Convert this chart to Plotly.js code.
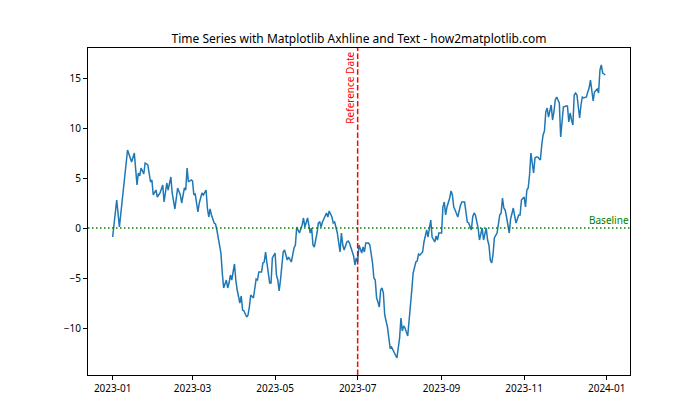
<!DOCTYPE html>
<html>
<head>
<meta charset="utf-8">
<script src="https://cdn.plot.ly/plotly-3.0.1.min.js"></script>
<style>html,body{margin:0;padding:0;background:#fff}#chart{width:700px;height:420px}</style>
</head>
<body>
<div id="chart"></div>
<script>
// Day offsets from 2023-01-01 and the series values
const startDate = '2023-01-01';
const dayOffsets = [0,3,5,10,11,14,16,18,19,20,21,23,24,26,28,29,30,32,33,35,37,38,40,41,43,44,46,48,50,51,53,54,55,56,58,59,60,61,63,64,66,67,69,70,71,72,73,75,76,77,78,80,81,82,84,85,86,87,88,90,91,92,94,95,96,97,99,100,101,102,104,105,106,107,108,110,111,112,113,114,116,117,118,120,121,122,123,124,126,127,129,130,132,134,135,136,138,140,141,142,143,144,146,147,148,149,151,152,153,154,155,157,158,159,160,162,163,164,165,166,168,169,170,171,173,174,175,176,178,179,180,181,182,184,185,186,187,189,190,192,193,194,195,196,197,198,199,200,201,203,204,205,206,208,209,210,211,212,213,214,215,216,218,219,220,221,222,224,225,226,227,229,230,231,232,233,234,235,236,238,239,240,241,243,244,245,246,247,249,250,251,252,253,254,255,257,258,260,261,262,263,265,266,267,268,270,271,272,273,274,276,277,278,279,280,281,282,284,285,286,287,288,289,290,291,292,293,294,296,297,298,300,301,302,303,304,305,306,307,308,309,311,312,313,314,316,317,318,319,320,321,322,324,325,326,327,328,330,331,332,333,335,336,337,338,339,340,341,342,343,345,346,347,348,350,351,352,353,354,355,356,358,359,360,361,362,363,364];
const values = [-0.9,2.8,0.1,6.5,7.8,6.6,7.5,4.3,5.5,5.2,6.0,5.4,6.5,6.3,4.6,4.8,3.3,3.8,3.1,3.5,4.3,2.6,4.5,3.8,5.1,3.5,1.9,4.0,3.3,2.5,4.0,3.8,6.0,4.6,4.8,4.7,3.3,3.4,1.6,2.5,3.5,3.3,3.8,2.0,1.1,1.9,1.3,0.5,0.4,-0.2,-1.0,-2.5,-4.5,-6.0,-5.2,-6.0,-5.5,-4.7,-5.2,-3.6,-5.2,-6.2,-7.5,-6.8,-8.2,-8.3,-8.9,-8.7,-7.9,-6.7,-7.0,-5.9,-5.1,-5.2,-4.4,-4.4,-3.5,-3.4,-2.4,-3.5,-5.5,-5.5,-3.0,-2.5,-4.7,-5.2,-6.3,-5.2,-2.4,-2.2,-3.2,-2.9,-3.4,-2.0,-1.7,0.1,-0.5,0.3,1.0,0.1,0.6,1.0,-0.5,0.0,-1.7,-1.9,-0.5,0.5,0.6,0.1,0.6,1.1,1.5,1.1,1.7,1.1,0.5,0.6,0.0,-0.5,-2.4,-0.5,-1.7,-2.2,-1.4,-1.3,-1.5,-2.0,-2.8,-3.7,-3.0,-3.4,-1.7,-2.5,-1.9,-2.4,-1.5,-1.5,-1.7,-3.5,-5.0,-5.2,-7.0,-7.4,-7.9,-6.2,-6.0,-6.5,-8.7,-9.9,-11.2,-12.0,-11.9,-12.4,-12.7,-13.0,-12.0,-11.0,-9.0,-10.3,-9.8,-10.0,-10.8,-9.5,-8.0,-6.2,-4.5,-3.4,-3.3,-2.6,-2.7,-2.4,-1.4,-0.8,-0.2,-0.9,0.2,0.8,-0.9,-1.4,-0.8,-1.2,-0.5,-0.5,2.1,2.6,1.3,2.1,3.0,3.7,3.3,2.1,1.8,1.5,1.1,2.3,2.6,2.6,1.8,0.6,0.5,-0.2,1.1,1.5,1.3,0.0,-1.2,-0.5,0.0,-1.2,0.0,-1.2,-1.7,-3.2,-3.5,-2.7,-1.0,-0.5,0.3,1.3,1.5,3.0,2.0,1.8,1.1,0.4,-0.5,0.9,2.0,1.2,0.5,1.3,1.3,2.8,3.0,3.1,2.1,3.8,4.0,5.3,7.5,5.5,7.0,7.1,7.1,6.8,8.3,9.3,9.7,11.6,12.0,11.1,12.3,10.8,11.6,12.8,13.1,12.5,9.1,10.6,12.1,12.2,12.2,10.6,11.5,10.8,10.3,13.3,13.5,13.3,11.0,12.3,13.1,13.0,13.1,13.6,14.0,14.8,13.6,12.7,13.6,13.9,13.5,15.8,16.3,15.5,15.4,15.3];
const xTickVals = ['2023-01-01','2023-03-01','2023-05-01','2023-07-01','2023-09-01','2023-11-01','2024-01-01'];
const xTickText = ['2023-01','2023-03','2023-05','2023-07','2023-09','2023-11','2024-01'];
const yTickVals = [-10,-5,0,5,10,15];
const referenceDate = '2023-07-01';
const baselineValue = 0;

const base = new Date(startDate + 'T00:00:00Z');
const dates = dayOffsets.map(d => new Date(base.getTime() + d * 86400000).toISOString().slice(0, 10));

const font = 'Noto Sans, DejaVu Sans, sans-serif';

const traces = [
  {x: dates, y: values, type: 'scatter', mode: 'lines',
   line: {color: '#1f77b4', width: 1.5}, hoverinfo: 'skip', showlegend: false}
];

const layout = {
  width: 700, height: 420,
  margin: {l: 88, r: 70, t: 48, b: 45},
  paper_bgcolor: '#fff', plot_bgcolor: '#fff',
  font: {family: font, size: 10, color: '#000'},
  title: {text: 'Time Series with Matplotlib Axhline and Text - how2matplotlib.com',
          font: {family: font, size: 12, color: '#000'},
          x: 0.5, xref: 'paper', y: 1, yref: 'paper', yanchor: 'bottom', pad: {b: 5}},
  showlegend: false,
  xaxis: {type: 'date', range: ['2022-12-13 19:00', '2024-01-18 05:00'],
          tickvals: xTickVals, ticktext: xTickText,
          ticks: 'outside', ticklen: 4, tickcolor: '#000', tickwidth: 1,
          showline: true, mirror: true, linecolor: '#000', linewidth: 1,
          showgrid: false, zeroline: false, tickfont: {size: 10}},
  yaxis: {range: [-14.7, 18.0], tickvals: yTickVals,
          ticks: 'outside', ticklen: 4, tickcolor: '#000', tickwidth: 1,
          showline: true, mirror: true, linecolor: '#000', linewidth: 1,
          showgrid: false, zeroline: false, tickfont: {size: 10}},
  shapes: [
    {type: 'line', xref: 'paper', x0: 0, x1: 1, yref: 'y', y0: baselineValue, y1: baselineValue,
     line: {color: '#008000', width: 1.5, dash: '1.5px,2.5px'}},
    {type: 'line', xref: 'x', x0: referenceDate, x1: referenceDate, yref: 'paper', y0: 0, y1: 1,
     line: {color: '#ff0000', width: 1.5, dash: '5.5px,2.4px'}}
  ],
  annotations: [
    {text: 'Reference Date', x: referenceDate, xref: 'x', y: 17.7, yref: 'y',
     xanchor: 'right', yanchor: 'top', textangle: -90, showarrow: false,
     font: {family: font, size: 10, color: '#ff0000'}, borderpad: 0},
    {text: 'Baseline', x: 1, xref: 'paper', y: baselineValue, yref: 'y',
     xanchor: 'right', yanchor: 'bottom', showarrow: false,
     font: {family: font, size: 10, color: '#008000'}, borderpad: 0}
  ]
};

Plotly.newPlot('chart', traces, layout, {displayModeBar: false, staticPlot: true});
</script>
</body>
</html>
